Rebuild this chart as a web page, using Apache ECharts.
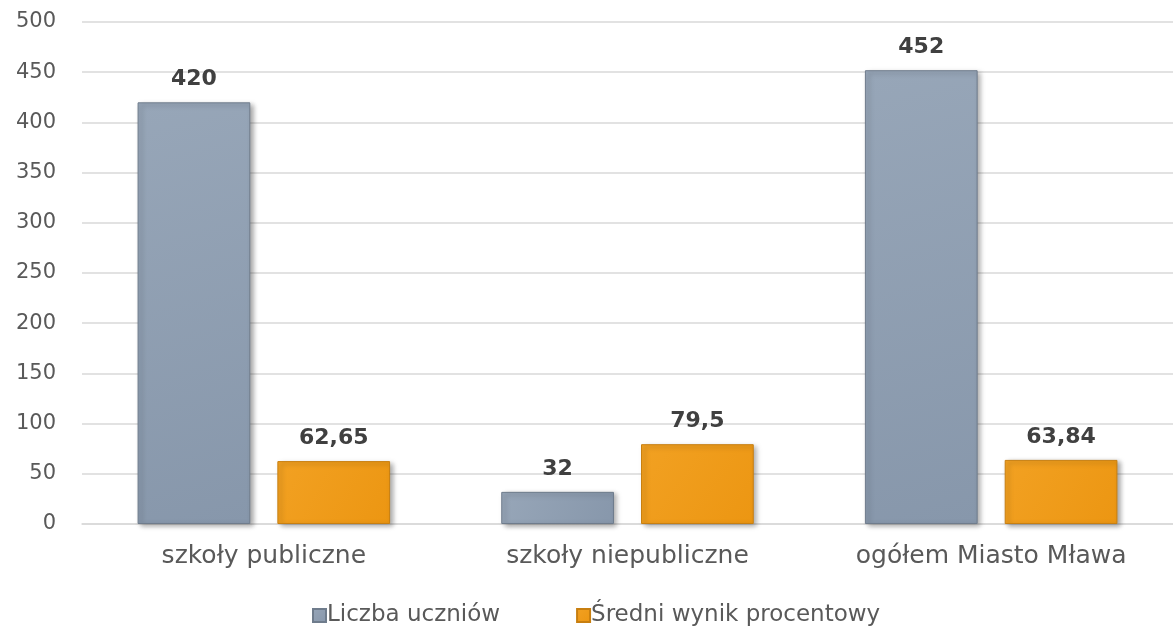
<!DOCTYPE html>
<html><head><meta charset="utf-8">
<script src="https://cdn.jsdelivr.net/npm/echarts@6/dist/echarts.min.js"></script>
<style>html,body{margin:0;padding:0;background:#fff}#c{width:1173px;height:628px}</style>
</head><body><div id="c"></div>
<script>
const categories = ['szkoły publiczne', 'szkoły niepubliczne', 'ogółem Miasto Mława'];
const liczbaUczniow = [420, 32, 452];
const sredniWynik = [62.65, 79.5, 63.84];
const seriesNames = ['Liczba uczniów', 'Średni wynik procentowy'];

const FONT = '"DejaVu Sans", sans-serif';
const fmt = p => String(p.value).replace('.', ',');
const labelStyle = {show: true, position: 'top', distance: 12, formatter: fmt,
  fontFamily: FONT, fontWeight: 'bold', fontSize: 22, color: '#404040'};

const chart = echarts.init(document.getElementById('c'), null, {renderer: 'canvas'});
chart.setOption({
  animation: false,
  grid: {left: 82, right: 0, top: 22, bottom: 104},
  legend: {
    top: 599, left: 307, itemWidth: 13, itemHeight: 13, itemGap: 76,
    textStyle: {fontFamily: FONT, fontSize: 23, color: '#595959', padding: [0, 0, 0, -4]},
    data: seriesNames.map(n => ({name: n, icon: 'rect'}))
  },
  xAxis: {
    type: 'category', data: categories,
    axisLine: {show: true, lineStyle: {color: '#d9d9d9', width: 1.5}},
    axisTick: {show: false},
    axisLabel: {fontFamily: FONT, fontSize: 25, color: '#595959', margin: 20}
  },
  yAxis: {
    type: 'value', min: 0, max: 500, interval: 50,
    axisLine: {show: false}, axisTick: {show: false},
    axisLabel: {fontFamily: FONT, fontSize: 21, color: '#595959', margin: 26, align: 'right'},
    splitLine: {lineStyle: {color: '#d9d9d9', width: 1.5}}
  },
  series: [
    {name: seriesNames[0], type: 'bar', data: liczbaUczniow, barWidth: '31%', barGap: '24%',
     itemStyle: {
       color: new echarts.graphic.LinearGradient(0, 0, 1, 1, [{offset: 0, color: '#97a6b8'}, {offset: 1, color: '#8797ab'}]),
       borderColor: '#6f7c8c', borderWidth: 1,
       shadowColor: 'rgba(0,0,0,0.35)', shadowBlur: 5, shadowOffsetX: 3, shadowOffsetY: 2
     },
     label: labelStyle},
    {name: seriesNames[1], type: 'bar', data: sredniWynik, barWidth: '31%',
     itemStyle: {
       color: new echarts.graphic.LinearGradient(0, 0, 1, 1, [{offset: 0, color: '#f2a122'}, {offset: 1, color: '#ec9612'}]),
       borderColor: '#c87f10', borderWidth: 1,
       shadowColor: 'rgba(0,0,0,0.35)', shadowBlur: 5, shadowOffsetX: 3, shadowOffsetY: 2
     },
     label: labelStyle}
  ]
});
</script></body></html>
